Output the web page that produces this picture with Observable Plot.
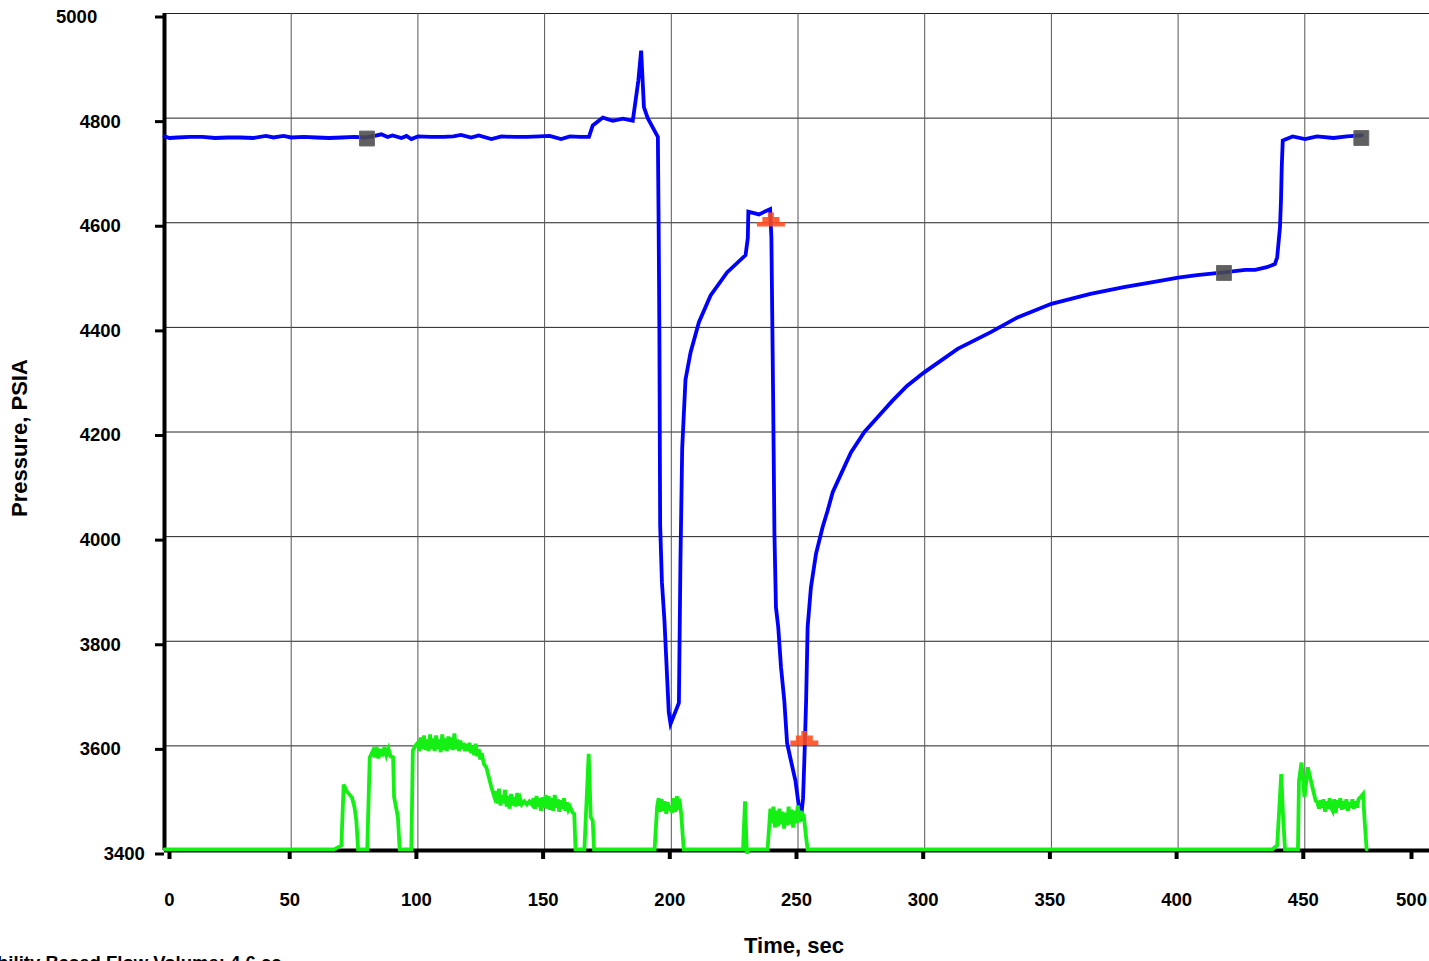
<!DOCTYPE html>
<html>
<head>
<meta charset="utf-8">
<script src="https://cdn.jsdelivr.net/npm/d3@7"></script>
<script src="https://cdn.jsdelivr.net/npm/@observablehq/plot@0.6"></script>
<style>
  html, body { margin: 0; padding: 0; background: white; overflow: hidden; }
  #chart { width: 1429px; height: 961px; }
</style>
</head>
<body>
<div id="chart"></div>
<script>
// ---- Data (time in sec, pressure in PSIA) ----
const pressureSeries = [
  [0,4765],[2,4762],[5,4763],[10,4764],[15,4764],[20,4762],[25,4763],[30,4763],[35,4762],[40,4766],
  [43,4763],[47,4766],[50,4763],[55,4764],[60,4763],[65,4762],[70,4763],[75,4764],[79,4763],[82,4765],
  [85.6,4769],[88,4764],[90,4767],[93.5,4762],[95.5,4766],[97.4,4760],[100,4765],[105,4764],[110,4764],
  [114,4765],[117,4768],[121,4763],[124,4767],[129,4760],[133,4765],[138,4764],[143,4764],[148,4765],
  [152,4766],[156.5,4760],[160,4765],[164,4764],[167.5,4764],
  [169,4786],[173,4801],[176.9,4795],[180.9,4799],[184.8,4795],[187,4872],[188.1,4929],[189.2,4821],
  [190.7,4800],[194.7,4764],[195,4600],[195.3,4390],[195.6,4022],[196.3,3913],[197.3,3839],[199,3664],
  [199.7,3642],[203,3682],[203.6,3949],[204.3,4169],[205.6,4300],[207.6,4352],[210.9,4410],[215.5,4461],
  [222,4505],[229.3,4538],[230.2,4571],[230.4,4621],[234.6,4616],[239,4626],[239.5,4571],[240.2,4260],
  [240.7,4006],[241.3,3865],[242.2,3827],[243.3,3750],[244.6,3686],[245.7,3605],[247.2,3572],[249,3533],
  [251.1,3457],[252,3500],[252.5,3572],[252.8,3620],[253.2,3686],[253.8,3827],[255.1,3903],[257.1,3967],
  [259.7,4018],[261.7,4050],[263.7,4085],[267,4120],[270.9,4161],[276.2,4200],[281.4,4228],[287.3,4260],
  [293,4288],[299.8,4314],[313,4359],[326.1,4391],[336.6,4419],[350,4445],[365.4,4464],[378.6,4477],
  [391.7,4488],[400,4495],[407.5,4500],[418,4505],[426.5,4510],[430.4,4510],[435,4515],[438.2,4521],
  [439.1,4534],[440.2,4591],[440.6,4642],[440.9,4706],[441.3,4757],[445.2,4765],[450.1,4760],[454.8,4765],
  [461.3,4762],[466.6,4765],[472.5,4767]
];

const flowSeries = [
  [0,3402],[67,3402],[69.8,3410],[70.7,3526],[71.8,3514],[74,3501],[75,3482],[75.7,3457],[76.4,3402],
  [80,3402],[81,3578],[82.3,3591],[83,3578],[83.7,3598],[84.4,3576],[85.2,3594],[86,3580],[86.8,3598],
  [87.6,3582],[88.4,3594],[89.2,3580],[90.2,3578],[90.6,3502],[92.1,3464],[92.8,3402],[97.4,3402],
  [98,3591],[99,3600],[100,3606],[100.6,3590],[101.2,3616],[101.8,3594],[102.4,3620],[103,3592],[103.6,3612],
  [104.2,3590],[104.8,3622],[105.4,3594],[106,3614],[106.6,3590],[107.2,3620],[107.8,3594],[108.4,3612],
  [109,3588],[109.6,3622],[110.2,3592],[110.8,3614],[111.4,3590],[112,3618],[112.6,3594],[113.2,3616],
  [113.8,3592],[114.4,3624],[115,3594],[115.6,3612],[116.2,3590],[116.8,3610],[117.4,3594],[118,3606],
  [118.6,3590],[119.2,3604],[119.8,3590],[120.4,3606],[121,3586],[121.6,3600],[122.2,3582],[122.8,3604],
  [123.4,3580],[124,3594],[124.6,3574],[125.2,3586],[126,3566],[127,3559],[128,3540],[129,3521],[130.2,3502],
  [130.8,3514],[131.4,3490],[132,3518],[132.6,3486],[133.2,3506],[133.8,3490],[134.4,3516],[135,3484],
  [135.6,3504],[136.2,3480],[136.8,3508],[137.4,3486],[138,3502],[138.6,3484],[139.2,3510],[139.8,3486],
  [140.4,3498],[141,3488],[142,3494],[143,3488],[144,3494],[145,3488],[145.6,3500],[146.2,3480],[146.8,3504],
  [147.4,3484],[148,3500],[148.6,3476],[149.2,3502],[149.8,3482],[150.4,3506],[151,3480],[151.6,3504],
  [152.2,3478],[152.8,3500],[153.4,3476],[154,3506],[154.6,3482],[155.2,3498],[155.8,3474],[156.4,3496],
  [157,3480],[157.6,3500],[158.2,3476],[158.8,3492],[159.4,3478],[160,3484],[161,3473],[161.7,3470],[162.2,3402],
  [165.7,3402],[167.4,3585],[168.2,3464],[169,3457],[169.5,3402],[193.4,3402],[194.4,3483],[195,3500],
  [195.6,3474],[196.2,3498],[196.8,3476],[197.4,3494],[198,3470],[198.6,3492],[199.2,3476],[199.8,3486],
  [200.4,3472],[201,3500],[201.6,3474],[202.2,3504],[202.8,3478],[203.2,3499],[203.9,3470],[204.9,3402],
  [228.3,3402],[229.1,3494],[229.8,3394],[230.3,3402],[238,3402],[239.1,3480],[239.7,3452],[240.3,3484],
  [240.9,3444],[241.5,3476],[242.1,3446],[242.7,3480],[243.3,3450],[243.9,3474],[244.5,3442],[245.1,3472],
  [245.7,3448],[246.3,3484],[246.9,3450],[247.5,3478],[248.1,3444],[248.7,3476],[249.3,3452],[249.9,3486],
  [250.5,3454],[251.1,3476],[251.6,3460],[252.2,3470],[253.2,3425],[253.8,3402],
  [437.2,3402],[439.1,3410],[440.7,3546],[441.5,3457],[442.2,3402],[447.3,3402],[447.7,3533],
  [448.7,3568],[449.9,3502],[451.2,3559],[453,3521],[454.3,3495],[455,3492],[455.6,3480],[456.2,3496],
  [456.8,3482],[457.4,3498],[458,3474],[458.6,3494],[459.2,3480],[459.8,3500],[460.4,3482],[461,3476],
  [461.6,3498],[462.2,3472],[462.8,3496],[463.4,3482],[464,3500],[464.6,3478],[465.2,3494],[465.8,3480],
  [466.4,3498],[467,3476],[467.6,3492],[468.2,3482],[468.8,3498],[469.4,3480],[470,3494],[470.6,3482],
  [471.2,3498],[472,3502],[473,3508],[473.6,3457],[474.4,3402]
];

const squareMarkers = [[79.9,4761],[418.1,4504],[472.3,4762]];
const triangleMarkers = [[239.3,4606],[252.5,3615]];

const xTicks = [0,50,100,150,200,250,300,350,400,450,500];
const yTicks = [3400,3600,3800,4000,4200,4400,4600,4800,5000];
const yLabelTitle = "Pressure, PSIA";
const xLabelTitle = "Time, sec";
const footnote = "Compressibility Based Flow Volume: 4.6 cc";

// ---- Stepped-pyramid symbol ----
const steppedTriangle = {
  draw(ctx) {
    ctx.moveTo(-14, 7); ctx.lineTo(14, 7); ctx.lineTo(14, 2.5);
    ctx.lineTo(8.5, 2.5); ctx.lineTo(8.5, -2.5); ctx.lineTo(3, -2.5);
    ctx.lineTo(3, -7); ctx.lineTo(-3, -7); ctx.lineTo(-3, -2.5);
    ctx.lineTo(-8.5, -2.5); ctx.lineTo(-8.5, 2.5); ctx.lineTo(-14, 2.5);
    ctx.closePath();
  }
};

const FONT = "'Liberation Sans', Arial, Helvetica, sans-serif";
const fmt = d => String(d);
const tickFont = {fontSize: 18.5, fontWeight: "bold", fill: "black", tickFormat: fmt};
const midY = yTicks.filter(v => v !== 5000 && v !== 3400);
const midX = xTicks.filter(v => v !== 0 && v !== 500);

const chart = Plot.plot({
  width: 1429,
  height: 961,
  marginLeft: 164,
  marginRight: -2,
  marginTop: 13,
  marginBottom: 111,
  style: {fontFamily: FONT, background: "white"},
  x: {domain: [0, 500]},
  y: {domain: [3400, 5000]},
  marks: [
    Plot.gridY({ticks: yTicks, stroke: "#222", strokeOpacity: 1, strokeWidth: 1}),
    Plot.gridX({ticks: xTicks, stroke: "#555", strokeOpacity: 1, strokeWidth: 1}),
    Plot.ruleX([0], {stroke: "black", strokeWidth: 4}),
    Plot.ruleY([3400], {stroke: "black", strokeWidth: 4}),
    Plot.axisY({ticks: midY, tickSize: 9, tickPadding: 34.7, strokeWidth: 3, stroke: "black", label: null, dy: 3.5, ...tickFont}),
    Plot.axisY({ticks: [5000], tickSize: 9, tickPadding: 58.3, strokeWidth: 3, stroke: "black", label: null, dy: 3.5, ...tickFont}),
    Plot.axisY({ticks: [3400], tickSize: 9, tickPadding: 10.7, strokeWidth: 3, stroke: "black", label: null, dy: 3.5, ...tickFont}),
    Plot.axisX({ticks: midX, tickSize: 9, tickPadding: 33, strokeWidth: 4, stroke: "black", label: null, dx: -1.5, ...tickFont}),
    Plot.axisX({ticks: [0], tickSize: 9, tickPadding: 33, strokeWidth: 4, stroke: "black", label: null, dx: 5, ...tickFont}),
    Plot.axisX({ticks: [500], tickSize: 9, tickPadding: 33, strokeWidth: 4, stroke: "black", label: null, dx: -20, ...tickFont}),
    Plot.line(pressureSeries, {x: d => d[0], y: d => d[1], stroke: "#0000ff", strokeWidth: 3.8, strokeLinejoin: "miter", strokeMiterlimit: 4}),
    Plot.line(flowSeries, {x: d => d[0], y: d => d[1], stroke: "#14f014", strokeWidth: 3.8, strokeLinejoin: "miter", strokeMiterlimit: 4}),
    Plot.dot(squareMarkers, {x: d => d[0], y: d => d[1], symbol: "square", r: 8.4, fill: "#4a4a4a", fillOpacity: 0.88, stroke: "#6a6a6a", strokeWidth: 1}),
    Plot.dot(triangleMarkers, {x: d => d[0], y: d => d[1], symbol: steppedTriangle, r: 8, fill: "#ff4a1a", fillOpacity: 0.88, stroke: "none"}),
    Plot.text([yLabelTitle], {text: d => d, frameAnchor: "left", rotate: -90, dx: -145, dy: 6, fontSize: 22, fontWeight: "bold", fill: "black", textAnchor: "middle"}),
    Plot.text([xLabelTitle], {text: d => d, frameAnchor: "bottom", dx: -4, dy: 87, lineAnchor: "top", fontSize: 22, fontWeight: "bold", fill: "black", textAnchor: "middle"}),
    Plot.text([footnote], {text: d => d, frameAnchor: "bottom-left", dx: 117, dy: 105, lineAnchor: "top", textAnchor: "end", fontSize: 18.5, fontWeight: "bold", fill: "black"})
  ]
});
document.getElementById("chart").appendChild(chart);
</script>
</body>
</html>
